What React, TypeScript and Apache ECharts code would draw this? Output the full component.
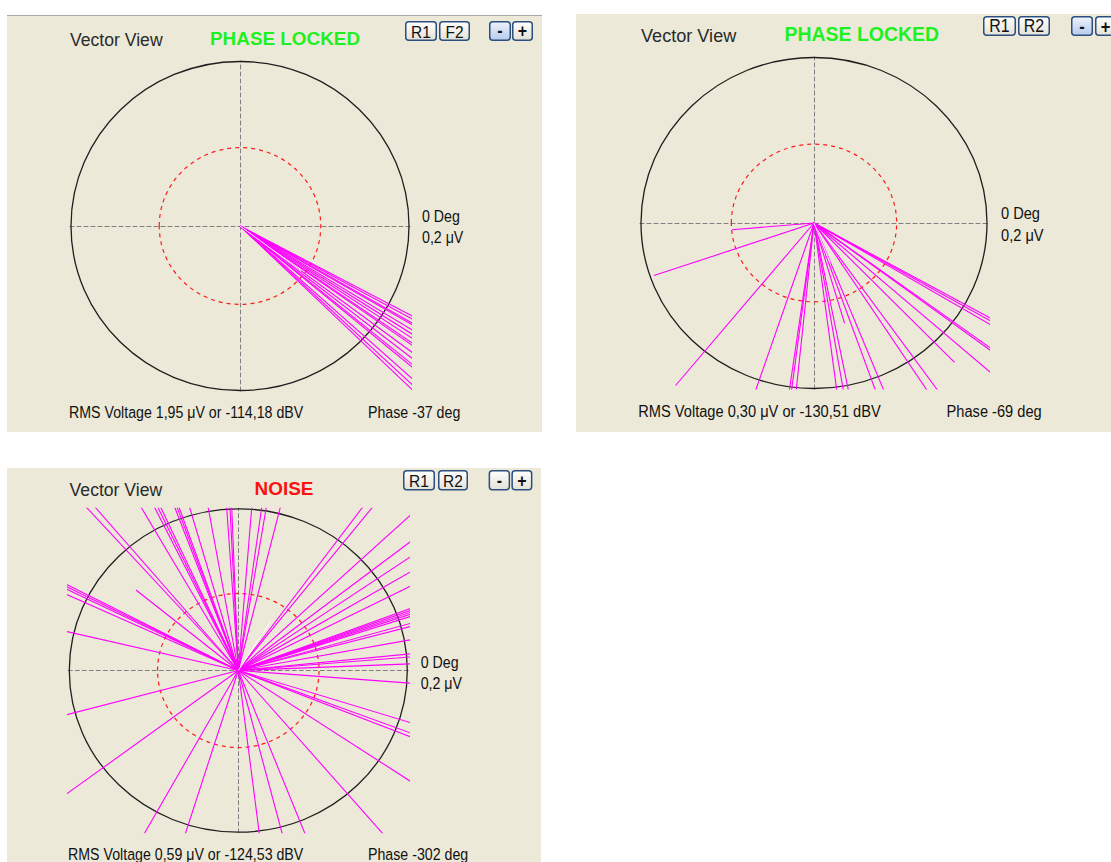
import React, { useEffect, useRef } from "react";
import * as echarts from "echarts";

// ---------- data ----------
const FULL_SCALE = 0.2; // μV, outer ring
const REF_RING = 0.095; // μV, red dashed ring

// Panel 1 (phase locked, 1,95 μV)
const P1_PHASE = [-28.3, -29.1, -30.1, -30.6, -31.9, -32.9, -33.9, -35.0, -35.5, -37.1, -38.4, -39.6, -40.2, -42.4, -43.5, -44.4];
const P1_MAG = [1.92, 2.05, 1.88, 2.01, 1.97, 1.84, 2.1, 1.93, 1.99, 2.03, 1.9, 1.86, 2.08, 1.95, 1.91, 2.02];

// Panel 2 (phase locked, 0,30 μV)
const P2_PHASE = [-108.4, -98.0, -97.3, -95.8, -82.6, -80.5, -78.9, -70.7, -68.3, -57.2, -54.8, -29.5, -30.2, -31.1, -36.6, -37.1, -41.6, -46.1, -73.8, -175.1, -161.0, -129.1];
const P2_MAG = [0.34, 0.29, 0.41, 0.33, 0.31, 0.38, 0.31, 0.44, 0.36, 0.32, 0.39, 0.31, 0.35, 0.3, 0.42, 0.33, 0.37, 0.233, 0.126, 0.0946, 0.1946, 0.2523];

// Panel 3 (noise, 0,59 μV)
const P3_PHASE = [
  131.6, 129.9, 119.6, 116.1, 115.2, 114.4, 110.4, 109.7, 109.1, 105.9, 100.0, 93.9, 92.8, 92.2, 85.5, 82.2, 80.7, 76.2, 54.0, 51.9,
  43.4, 38.1, 34.7, 31.0, 27.2, 20.7, 20.1, 19.5, 18.9, 18.2, 16.0, 15.0, 10.6, 5.8, 4.7, 2.3, -4.4, -17.6, -20.8, -22.0, -34.0,
  152.3, 152.9, 153.6, 155.1, 166.6, -164.9, -143.0,
  -118.8, -107.2, -83.0, -75.6, -68.7, -49.8,
  140.5,
];
const P3_MAG = [
  0.62, 0.55, 0.71, 0.48, 0.66, 0.59, 0.83, 0.52, 0.61, 0.74, 0.45, 0.68, 0.57, 0.79, 0.5, 0.63, 0.72, 0.54, 0.88, 0.6,
  0.47, 0.65, 0.58, 0.76, 0.53, 0.69, 0.61, 0.56, 0.81, 0.64, 0.49, 0.73, 0.58, 0.67, 0.52, 0.62, 0.7, 0.55, 0.77, 0.6, 0.51,
  0.66, 0.58, 0.72, 0.63, 0.54, 0.69, 0.57,
  0.61, 0.74, 0.56, 0.65, 0.5, 0.68,
  0.156,
];

const MEAN_PHASE = [-37, -69, -302];
const MEAN_MAG = [0.09, 0.052, 0.0715];

const TITLE = "Vector View";
const STATUS = ["PHASE LOCKED", "PHASE LOCKED", "NOISE"];
const BUTTON_LABELS = [["R1", "F2"], ["R1", "R2"], ["R1", "R2"]];
const ZOOM_LABELS = ["-", "+"];
const ANGLE_LABEL = "0 Deg";
const SCALE_LABEL = "0,2 μV";
const RMS_LABELS = [
  "RMS Voltage 1,95 μV or -114,18 dBV",
  "RMS Voltage 0,30 μV or -130,51 dBV",
  "RMS Voltage 0,59 μV or -124,53 dBV",
];
const PHASE_LABELS = ["Phase -37 deg", "Phase -69 deg", "Phase -302 deg"];

// ---------- layout ----------
const LAYOUT = [
  {
    bg: [7, 15, 535, 417], topLine: true, grid: [70, 61, 340, 330], f: 1,
    title: [70, 40], status: [210, 38.5], statusColor: "#1ff01f",
    btnY: 21, btnH: 20, btns: [[405, 32], [439, 31]], zoom: [[489, 22], [512, 21]], minusTint: true,
    deg: [422, 216], uv: [422, 237], rms: [69, 412.5], phase: [368, 412.5],
  },
  {
    bg: [576, 14, 535, 418], topLine: false, grid: [640, 57, 348, 332], f: 1.03,
    title: [641, 36], status: [784.5, 34.3], statusColor: "#1ff01f",
    btnY: 16, btnH: 20, btns: [[983, 33], [1018, 32]], zoom: [[1071, 22], [1095, 21]], minusTint: true,
    deg: [1001, 213.3], uv: [1001, 235], rms: [638.3, 411], phase: [946.6, 411],
  },
  {
    bg: [7, 468, 534, 394], topLine: false, grid: [68.3, 508.3, 340, 324.4], f: 1,
    title: [69.6, 490], status: [254.6, 488.3], statusColor: "#ff1010",
    btnY: 470, btnH: 20.5, btns: [[403, 32], [438, 30]], zoom: [[488.6, 21.5], [511.4, 21]], minusTint: false,
    deg: [420.7, 662], uv: [420.7, 682.7], rms: [68, 854], phase: [368, 854],
  },
];

const FONT = "'Liberation Sans', Arial, sans-serif";
const BG = "#ece9d8";

const toXY = (deg: number, mag: number) => {
  const r = (deg * Math.PI) / 180;
  return [mag * Math.cos(r), mag * Math.sin(r)];
};

function buildOption() {
  const sets = [
    [P1_PHASE, P1_MAG],
    [P2_PHASE, P2_MAG],
    [P3_PHASE, P3_MAG],
  ];
  const axis = (i: number) => ({
    gridIndex: i,
    type: "value",
    min: -FULL_SCALE,
    max: FULL_SCALE,
    z: 1,
    axisLine: { show: true, onZero: true, lineStyle: { color: "#7f7f7f", width: 1, type: [4, 3] } },
    axisTick: { show: false },
    axisLabel: { show: false },
    splitLine: { show: false },
  });
  const series: any[] = [];
  sets.forEach(([ph, mg], i) => {
    ph.forEach((p, j) => {
      series.push({
        type: "line", xAxisIndex: i, yAxisIndex: i, silent: true, clip: true, z: 5,
        symbol: "none", data: [[0, 0], toXY(p, mg[j])],
        lineStyle: { color: "#ff00ff", width: 1.1 },
      });
    });
    series.push({
      type: "line", xAxisIndex: i, yAxisIndex: i, silent: true, clip: true, z: 6,
      symbol: "none", data: [[0, 0], toXY(MEAN_PHASE[i], MEAN_MAG[i])],
      lineStyle: { color: "#ffffff", width: 1 },
    });
  });
  return {
    animation: false,
    grid: LAYOUT.map((L) => ({ left: L.grid[0], top: L.grid[1], width: L.grid[2], height: L.grid[3], show: false })),
    xAxis: LAYOUT.map((_, i) => axis(i)),
    yAxis: LAYOUT.map((_, i) => axis(i)),
    series,
  };
}

function text(x: number, y: number, t: string, size: number, color: string, extra: any = {}) {
  return {
    type: "text", x, y, z: 10, silent: true, scaleY: extra.sy ?? 1,
    style: {
      text: t, fontSize: size, fontFamily: FONT, fontWeight: extra.bold ? "bold" : "normal",
      fill: color, align: extra.align ?? "left", verticalAlign: "middle",
    },
  };
}

function button(x: number, y: number, w: number, h: number, label: string, f: number, tint: boolean, bold: boolean) {
  const fill = tint
    ? { type: "linear", x: 0, y: 0, x2: 0, y2: 1, colorStops: [{ offset: 0, color: "#eef3fc" }, { offset: 1, color: "#b7cbeb" }] }
    : { type: "linear", x: 0, y: 0, x2: 0, y2: 1, colorStops: [{ offset: 0, color: "#ffffff" }, { offset: 1, color: "#e4e1d6" }] };
  return [
    { type: "rect", z: 9, silent: true, shape: { x: x + 0.75, y: y + 0.75, width: w - 1.5, height: h - 1.5, r: 3 }, style: { fill, stroke: "#2b4f7e", lineWidth: 1.5 } },
    text(x + w / 2, y + h / 2 + 0.5, label, (bold ? 16 : 15.5) * f, "#111111", { align: "center", sy: 1.12, bold }),
  ];
}

export default function App() {
  const ref = useRef<HTMLDivElement>(null);
  useEffect(() => {
    if (!ref.current) return;
    const chart = echarts.init(ref.current, undefined, { renderer: "svg" });
    chart.setOption(buildOption() as any);

    const els: any[] = [];
    LAYOUT.forEach((L, i) => {
      const f = L.f;
      els.push({ type: "rect", z: -10, silent: true, shape: { x: L.bg[0], y: L.bg[1], width: L.bg[2], height: L.bg[3] }, style: { fill: BG } });
      if (L.topLine) {
        els.push({ type: "line", z: -9, silent: true, shape: { x1: L.bg[0], y1: L.bg[1] + 0.5, x2: L.bg[0] + L.bg[2], y2: L.bg[1] + 0.5 }, style: { stroke: "#a8a8a8", lineWidth: 1 } });
      }
      const c = chart.convertToPixel({ gridIndex: i } as any, [0, 0]) as number[];
      const o = chart.convertToPixel({ gridIndex: i } as any, [FULL_SCALE, FULL_SCALE]) as number[];
      const r = chart.convertToPixel({ gridIndex: i } as any, [REF_RING, REF_RING]) as number[];
      els.push({ type: "ellipse", z: 2, silent: true, shape: { cx: c[0], cy: c[1], rx: o[0] - c[0] - 1, ry: c[1] - o[1] - 0.5 }, style: { fill: "none", stroke: "#1e1e1e", lineWidth: 1.3 } });
      els.push({ type: "ellipse", z: 2, silent: true, shape: { cx: c[0], cy: c[1], rx: r[0] - c[0], ry: c[1] - r[1] }, style: { fill: "none", stroke: "#ff1a1a", lineWidth: 1.2, lineDash: [4, 4] } });

      els.push(text(L.title[0], L.title[1], TITLE, 17.6 * f, "#2a2a2a"));
      els.push(text(L.status[0], L.status[1], STATUS[i], 18.9 * f, L.statusColor, { bold: true }));
      L.btns.forEach((b, k) => els.push(...button(b[0], L.btnY, b[1], L.btnH, BUTTON_LABELS[i][k], f, false, false)));
      L.zoom.forEach((b, k) => els.push(...button(b[0], L.btnY, b[1], L.btnH, ZOOM_LABELS[k], f, k === 0 && L.minusTint, true)));
      els.push(text(L.deg[0], L.deg[1], ANGLE_LABEL, 14.2 * f, "#111111", { sy: 1.18 }));
      els.push(text(L.uv[0], L.uv[1], SCALE_LABEL, 14.2 * f, "#111111", { sy: 1.18 }));
      els.push(text(L.rms[0], L.rms[1], RMS_LABELS[i], 14.2 * f, "#111111", { sy: 1.18 }));
      els.push(text(L.phase[0], L.phase[1], PHASE_LABELS[i], 14.2 * f, "#111111", { sy: 1.18 }));
    });
    chart.setOption({ graphic: { elements: els } } as any);

    return () => chart.dispose();
  }, []);
  return (
    <div
      ref={ref}
      style={{ position: "absolute", left: 0, top: 0, width: 1111, height: 862, background: "#ffffff" }}
    />
  );
}
